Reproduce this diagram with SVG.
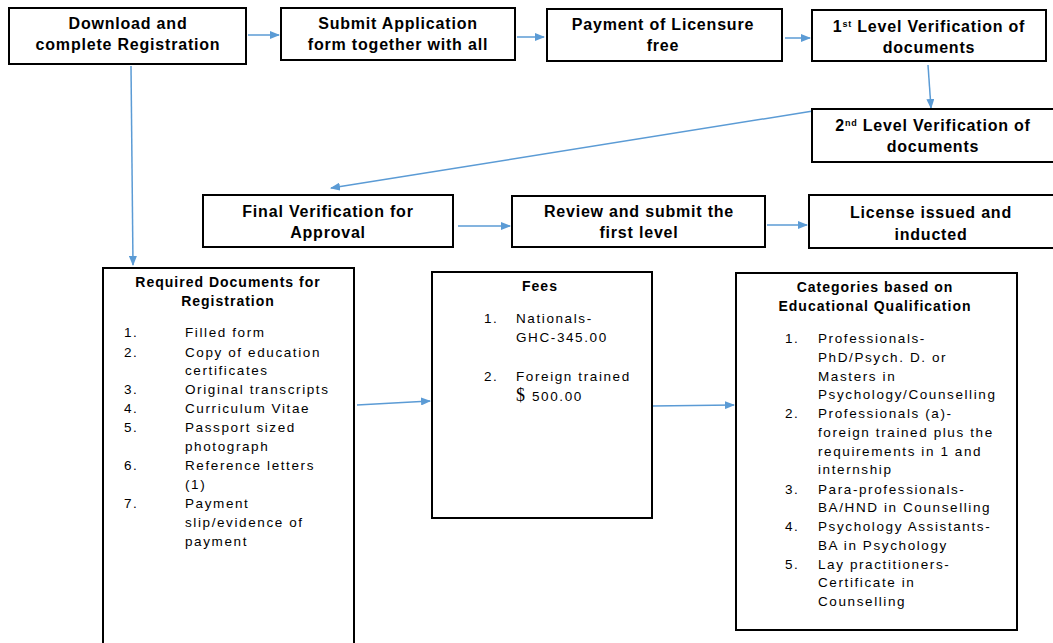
<svg xmlns="http://www.w3.org/2000/svg" width="1053" height="643" viewBox="0 0 1053 643">
<defs>
<marker id="ah" markerWidth="10" markerHeight="8" refX="9" refY="4" orient="auto" markerUnits="userSpaceOnUse">
<path d="M0,0 L10,4 L0,8 z" fill="#5b9bd5"/>
</marker>
<style>
.box{fill:#fff;stroke:#000;stroke-width:2}
.t{font-family:"Liberation Sans",Arial,sans-serif;font-size:16px;font-weight:bold;fill:#000;text-anchor:middle;letter-spacing:0.8px}
.h{font-family:"Liberation Sans",Arial,sans-serif;font-size:14px;font-weight:bold;fill:#000;text-anchor:middle;letter-spacing:1px}
.l{font-family:"Liberation Sans",Arial,sans-serif;font-size:13.5px;fill:#000;letter-spacing:1.6px}
.c{fill:none;stroke:#5b9bd5;stroke-width:1.5;marker-end:url(#ah)}
</style>
</defs>
<rect width="1053" height="643" fill="#fff"/>

<g id="connectors">
<line class="c" x1="248" y1="35" x2="279" y2="35"/>
<line class="c" x1="517" y1="37" x2="544" y2="37"/>
<line class="c" x1="785" y1="38" x2="810" y2="38"/>
<line class="c" x1="928" y1="65" x2="931" y2="108"/>
<line class="c" x1="813" y1="111" x2="331" y2="188"/>
<line class="c" x1="458" y1="226" x2="510" y2="226"/>
<line class="c" x1="767" y1="225" x2="807" y2="225"/>
<line class="c" x1="131" y1="66" x2="133" y2="265"/>
<line class="c" x1="357" y1="405" x2="430" y2="401"/>
<line class="c" x1="652" y1="406" x2="734" y2="405"/>
</g>

<g id="n1"><rect class="box" x="9" y="8" width="237" height="56"/>
<text class="t" x="128" y="29">Download and</text><text class="t" x="128" y="50">complete Registration</text></g>

<g id="n2"><rect class="box" x="281" y="8" width="234" height="52"/>
<text class="t" x="398" y="29">Submit Application</text><text class="t" x="398" y="50">form together with all</text></g>

<g id="n3"><rect class="box" x="547" y="9" width="235" height="52"/>
<text class="t" x="663" y="30">Payment of Licensure</text><text class="t" x="663" y="51">free</text></g>

<g id="n4"><rect class="box" x="812" y="10" width="234" height="51"/>
<text class="t" x="929" y="32">1<tspan font-size="9" dy="-5">st</tspan><tspan dy="5"> Level Verification of</tspan></text><text class="t" x="929" y="53">documents</text></g>

<g id="n5"><rect class="box" x="812" y="109" width="250" height="53"/>
<text class="t" x="933" y="131">2<tspan font-size="9" dy="-5">nd</tspan><tspan dy="5"> Level Verification of</tspan></text><text class="t" x="933" y="152">documents</text></g>

<g id="n6"><rect class="box" x="203" y="195" width="250" height="52"/>
<text class="t" x="328" y="217">Final Verification for</text><text class="t" x="328" y="238">Approval</text></g>

<g id="n7"><rect class="box" x="512" y="196" width="253" height="51"/>
<text class="t" x="639" y="217">Review and submit the</text><text class="t" x="639" y="238">first level</text></g>

<g id="n8"><rect class="box" x="809" y="195" width="250" height="53"/>
<text class="t" x="931" y="218">License issued and</text><text class="t" x="931" y="240">inducted</text></g>

<g id="n9"><rect class="box" x="103" y="268" width="251" height="390"/>
<text class="h" x="228" y="287">Required Documents for</text><text class="h" x="228" y="306">Registration</text>
<g class="l">
<text x="124" y="337">1.</text><text x="185" y="337">Filled form</text>
<text x="124" y="357">2.</text><text x="185" y="357">Copy of  education</text>
<text x="185" y="375">certificates</text>
<text x="124" y="394">3.</text><text x="185" y="394">Original transcripts</text>
<text x="124" y="413">4.</text><text x="185" y="413">Curriculum Vitae</text>
<text x="124" y="432">5.</text><text x="185" y="432">Passport sized</text>
<text x="185" y="451">photograph</text>
<text x="124" y="470">6.</text><text x="185" y="470">Reference letters</text>
<text x="185" y="489">(1)</text>
<text x="124" y="508">7.</text><text x="185" y="508">Payment</text>
<text x="185" y="527">slip/evidence of</text>
<text x="185" y="546">payment</text>
</g></g>

<g id="n10"><rect class="box" x="432" y="272" width="220" height="246"/>
<text class="h" x="540" y="291">Fees</text>
<g class="l">
<text x="484" y="323">1.</text><text x="516" y="323">Nationals-</text>
<text x="516" y="342">GHC-345.00</text>
<text x="484" y="381">2.</text><text x="516" y="381">Foreign trained</text>
<text x="516" y="401"><tspan font-family="Liberation Serif,serif" font-size="18">$</tspan> 500.00</text>
</g></g>

<g id="n11"><rect class="box" x="736" y="273" width="281" height="357"/>
<text class="h" x="875" y="292">Categories based on</text><text class="h" x="875" y="311">Educational Qualification</text>
<g class="l">
<text x="785" y="343">1.</text><text x="818" y="343">Professionals-</text>
<text x="818" y="362">PhD/Psych. D. or</text>
<text x="818" y="381">Masters in</text>
<text x="818" y="399">Psychology/Counselling</text>
<text x="785" y="418">2.</text><text x="818" y="418">Professionals (a)-</text>
<text x="818" y="437">foreign trained plus the</text>
<text x="818" y="456">requirements in 1 and</text>
<text x="818" y="474">internship</text>
<text x="785" y="494">3.</text><text x="818" y="494">Para-professionals-</text>
<text x="818" y="512">BA/HND in Counselling</text>
<text x="785" y="531">4.</text><text x="818" y="531">Psychology Assistants-</text>
<text x="818" y="550">BA in Psychology</text>
<text x="785" y="569">5.</text><text x="818" y="569">Lay practitioners-</text>
<text x="818" y="587">Certificate in</text>
<text x="818" y="606">Counselling</text>
</g></g>
</svg>
